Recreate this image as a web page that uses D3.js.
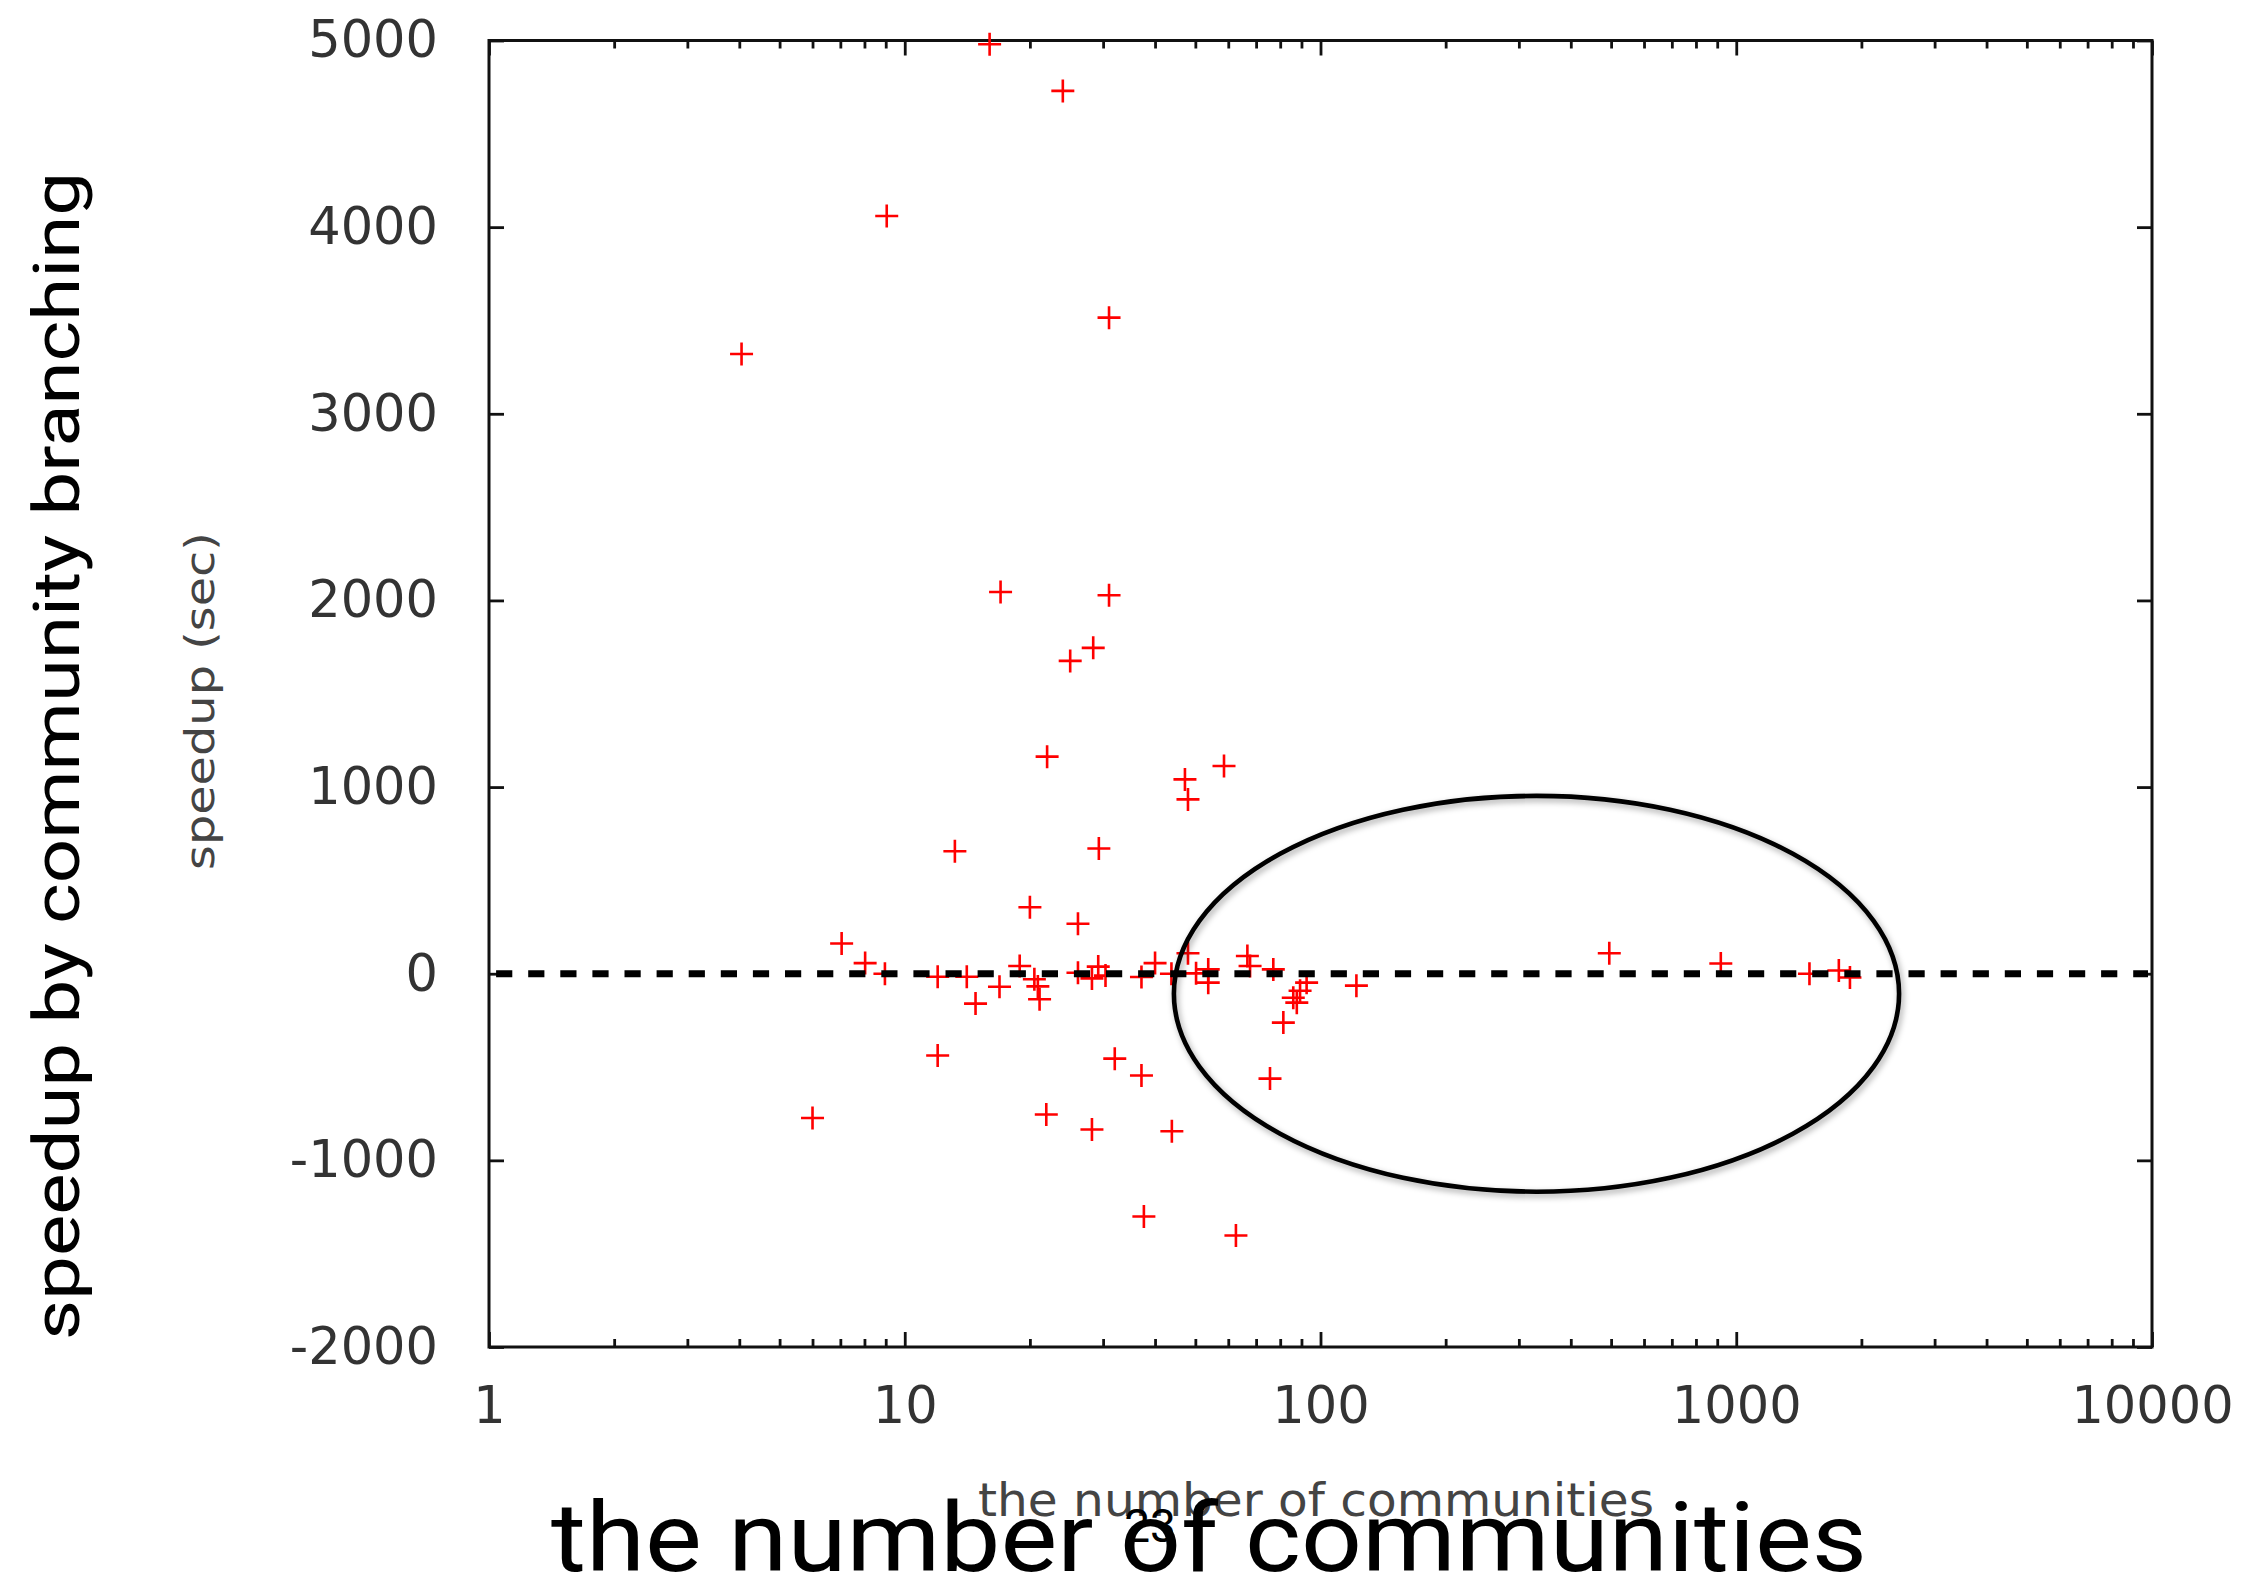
<!DOCTYPE html>
<html>
<head>
<meta charset="utf-8">
<script src="https://cdn.jsdelivr.net/npm/d3@7"></script>
<style>
	body { margin: 0; background: #fff; }
	svg { display: block; }
</style>
</head>
<body>
<svg id="chart" width="2254" height="1580"></svg>
<script>
// number of communities for each instance (log x)
const communities = [16, 24, 9.05, 31, 4.05, 17, 31, 28.4, 25, 22,
	47.2, 48, 58.6, 13.2, 29.3, 20, 26.1, 7.05, 8.03, 8.96,
	12, 14.1, 16.9, 14.8, 12, 6, 18.9, 20.5, 20.9, 21.1,
	21.9, 26.1, 28.2, 29.2, 30.4, 37.1, 40, 43.8, 48, 50.2,
	53.7, 53.7, 66.7, 67.7, 77, 92.6, 89.3, 86, 87.7, 81.4,
	75.6, 122, 32, 37.1, 28.2, 43.9, 37.6, 62.6, 495, 918,
	1500, 1765, 1877];
// speedup in seconds for the same instances
const speedup = [4980, 4730, 4060, 3515, 3320, 2045, 2028, 1746, 1676, 1163,
	1041, 934, 1113, 656, 671, 356, 268, 162, 57, 0,
	-16, -16, -70, -160, -438, -773, 41, -30, -68, -137,
	-754, 5, -25, 38, -10, -18, 57, 0, 110, 2,
	23, -48, 95, 41, 23, -48, -91, -129, -155, -262,
	-562, -64, -455, -545, -835, -844, -1301, -1403, 110, 55,
	0, 17, -20];

const xTicks = [1, 10, 100, 1000, 10000];
const yTicks = [-2000, -1000, 0, 1000, 2000, 3000, 4000, 5000];

// hand drawn ellipse around the large community counts (data units)
const circledX = [44.4, 2464];
const circledY = [-1168, 953];

const svg = d3.select('#chart');
const plotLeft = 489, plotRight = 2152, plotTop = 40.5, plotBottom = 1347;

const x = d3.scaleLog().domain([1, 10000]).range([plotLeft, plotRight]);
const y = d3.scaleLinear().domain([-2000, 5000]).range([plotBottom, plotTop]);

const labelFont = 'DejaVu Sans';
const minorTicks = x.ticks().filter(d => !xTicks.includes(d));

// drop shadow for the annotation ellipse
const defs = svg.append('defs');
const shadow = defs.append('filter').attr('id', 'shadow')
	.attr('x', '-10%').attr('y', '-10%').attr('width', '120%').attr('height', '125%');
shadow.append('feDropShadow')
	.attr('dx', 2).attr('dy', 3).attr('stdDeviation', 3)
	.attr('flood-color', '#000').attr('flood-opacity', 0.35);

// tick marks, all pointing into the plot
function tickGroup(axis, tx, ty) {
	const g = svg.append('g').attr('transform', `translate(${tx},${ty})`).call(axis);
	g.select('.domain').remove();
	g.selectAll('line').attr('stroke', '#111').attr('stroke-width', 2.8);
	return g;
}
tickGroup(d3.axisBottom(x).tickValues(xTicks).tickSize(-15).tickFormat(''), 0, plotBottom);
tickGroup(d3.axisBottom(x).tickValues(minorTicks).tickSize(-8).tickFormat(''), 0, plotBottom);
tickGroup(d3.axisTop(x).tickValues(xTicks).tickSize(-15).tickFormat(''), 0, plotTop);
tickGroup(d3.axisTop(x).tickValues(minorTicks).tickSize(-8).tickFormat(''), 0, plotTop);
tickGroup(d3.axisLeft(y).tickValues(yTicks).tickSize(-15).tickFormat(''), plotLeft, 0);
tickGroup(d3.axisRight(y).tickValues(yTicks).tickSize(-15).tickFormat(''), plotRight, 0);

// tick labels
const xLabels = svg.append('g').attr('transform', `translate(0,${plotBottom})`)
	.call(d3.axisBottom(x).tickValues(xTicks).tickSize(0).tickPadding(40).tickFormat(d => String(d)));
const yLabels = svg.append('g').attr('transform', `translate(${plotLeft},0)`)
	.call(d3.axisLeft(y).tickValues(yTicks).tickSize(0).tickPadding(51).tickFormat(d => String(d)));
[xLabels, yLabels].forEach(g => {
	g.select('.domain').remove();
	g.selectAll('text')
		.attr('font-family', labelFont)
		.attr('font-size', 51)
		.attr('fill', '#333');
});

// plot frame
svg.append('rect')
	.attr('x', plotLeft).attr('y', plotTop)
	.attr('width', plotRight - plotLeft).attr('height', plotBottom - plotTop)
	.attr('fill', 'none').attr('stroke', '#111').attr('stroke-width', 3);

// data points as red crosses
const arm = 11.5;
svg.append('g').selectAll('path')
	.data(communities.map((c, i) => ({ c, s: speedup[i] })))
	.join('path')
	.attr('d', d => {
		const px = x(d.c), py = y(d.s);
		return `M${px - arm},${py}H${px + arm}M${px},${py - arm}V${py + arm}`;
	})
	.attr('stroke', '#ff0000')
	.attr('stroke-width', 2.6)
	.attr('fill', 'none');

// zero line
svg.append('line')
	.attr('x1', x(1)).attr('x2', x(10000) - 4)
	.attr('y1', y(0)).attr('y2', y(0))
	.attr('stroke', '#000')
	.attr('stroke-width', 7)
	.attr('stroke-dasharray', '16.2 15.9')
	.attr('stroke-dashoffset', 25);

// small axis titles of the original plot
svg.append('text')
	.attr('x', 978).attr('y', 1516)
	.attr('font-family', labelFont).attr('font-size', 46)
	.attr('fill', '#444')
	.attr('textLength', 676).attr('lengthAdjust', 'spacingAndGlyphs')
	.text('the number of communities');
svg.append('text')
	.attr('transform', 'translate(214,870) rotate(-90)')
	.attr('font-family', labelFont).attr('font-size', 40)
	.attr('fill', '#444')
	.attr('textLength', 338).attr('lengthAdjust', 'spacingAndGlyphs')
	.text('speedup (sec)');

// slide page number
svg.append('text')
	.attr('x', 1150).attr('y', 1542)
	.attr('text-anchor', 'middle')
	.attr('font-family', 'Roboto').attr('font-size', 46)
	.attr('fill', '#000')
	.text('23');

// large slide titles
svg.append('text')
	.attr('x', 551).attr('y', 1571)
	.attr('font-family', 'Roboto').attr('font-size', 97)
	.attr('fill', '#000')
	.attr('textLength', 1316).attr('lengthAdjust', 'spacingAndGlyphs')
	.text('the number of communities');
svg.append('text')
	.attr('transform', 'translate(79,1340) rotate(-90)')
	.attr('font-family', 'Roboto').attr('font-size', 65)
	.attr('fill', '#000')
	.attr('textLength', 1168).attr('lengthAdjust', 'spacingAndGlyphs')
	.text('speedup by community branching');

// ellipse marking the region of interest
const ex0 = x(circledX[0]), ex1 = x(circledX[1]);
const ey0 = y(circledY[1]), ey1 = y(circledY[0]);
svg.append('ellipse')
	.attr('cx', (ex0 + ex1) / 2).attr('cy', (ey0 + ey1) / 2)
	.attr('rx', (ex1 - ex0) / 2).attr('ry', (ey1 - ey0) / 2)
	.attr('fill', 'none')
	.attr('stroke', '#000')
	.attr('stroke-width', 4.6)
	.attr('filter', 'url(#shadow)');
</script>
</body>
</html>
